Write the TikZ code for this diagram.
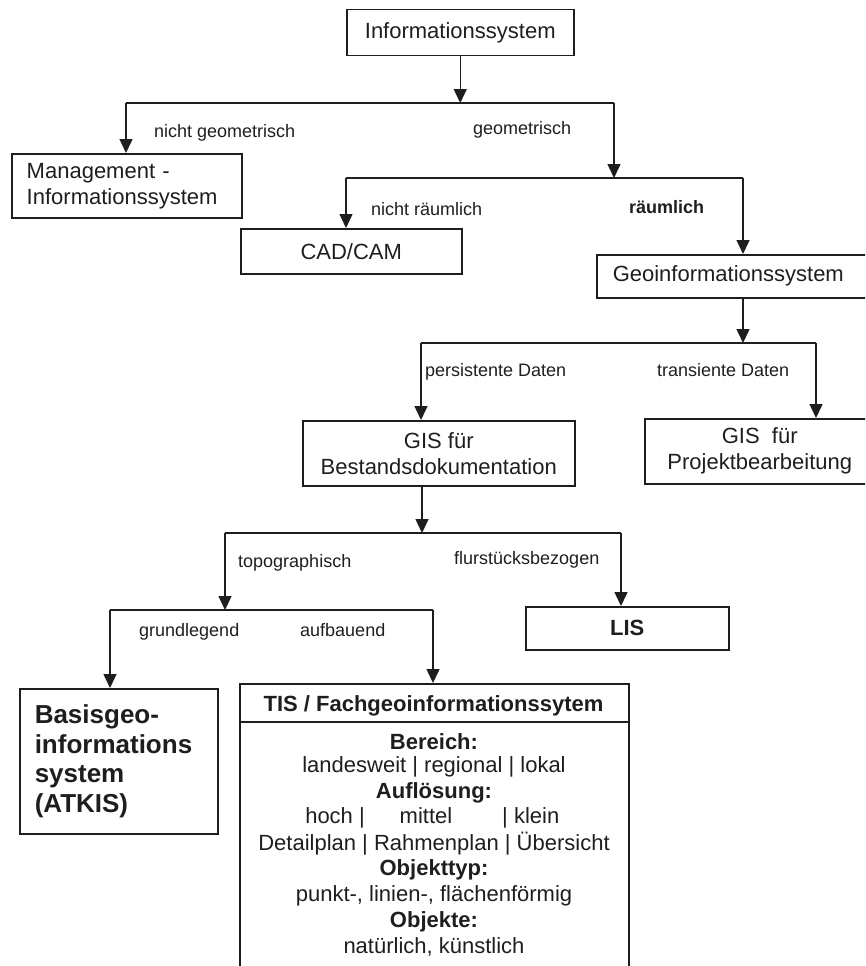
\documentclass[tikz,border=0pt]{standalone}
\usepackage{fontspec}
\setmainfont{Liberation Sans}
\usetikzlibrary{arrows.meta}
\definecolor{ink}{HTML}{1E1E1E}
\begin{document}
\begin{tikzpicture}[x=1pt,y=-1pt,
  every node/.style={text=ink, inner sep=0pt},
  box/.style={draw=ink, line width=1.5pt, anchor=north west},
  boxtext/.style={font=\fontsize{22}{26}\selectfont, align=center},
  lefttext/.style={font=\fontsize{22}{26}\selectfont, align=left},
  lbl/.style={font=\fontsize{18}{21}\selectfont, anchor=west},
  tis/.style={font=\fontsize{22}{26}\selectfont},
  tisbold/.style={font=\fontsize{22}{26}\selectfont\bfseries},
  bus/.style={draw=ink, line width=1.5pt},
  arr/.style={draw=ink, line width=1.5pt, -{Triangle[length=14pt,width=13pt]}}]

\useasboundingbox (0,0) rectangle (865,966);
\clip (0,0) rectangle (865,966);

% boxes
\node[box, boxtext, minimum width=227pt, minimum height=46pt] (info) at (346,9) {Informationssystem};
\node[box, lefttext, minimum width=230pt, minimum height=64pt, text width=200pt] (mgmt) at (11,153)
  {Management -\\Informationssystem};
\node[box, boxtext, minimum width=221pt, minimum height=45pt] (cad) at (240,228) {CAD/CAM};
\node[box, lefttext, minimum width=280pt, minimum height=43pt, text width=248pt] (geo) at (596,254)
  {Geoinformationssystem};
\node[box, boxtext, minimum width=272pt, minimum height=65pt] (bestand) at (302,420)
  {GIS für\\Bestandsdokumentation};
\node[box, boxtext, minimum width=230pt, minimum height=65pt] (projekt) at (644,418)
  {GIS\ \ für\\Projektbearbeitung};
\node[box, boxtext, font=\fontsize{22}{26}\selectfont\bfseries, minimum width=203pt, minimum height=43pt] (lis) at (525,606) {LIS};
\node[box, align=left, font=\fontsize{26}{29.7}\selectfont\bfseries, minimum width=198pt, minimum height=145pt, text width=168pt] (basis) at (19,688)
  {Basisgeo-\\informations\\system\\(ATKIS)};
\node[box, minimum width=389pt, minimum height=320pt] (tisbox) at (239,683) {};
\draw[bus] ([yshift=-39pt]tisbox.north west) -- ([yshift=-39pt]tisbox.north east);

% contents of the TIS box
\node[tisbold] (tishead) at (433.5,706) {TIS / Fachgeoinformationssytem};
\node[tisbold] (t1) at (434,742) {Bereich:};
\node[tis] (t2) at (434,767) {landesweit | regional | lokal};
\node[tisbold] (t3) at (434,793) {Auflösung:};
\node[tis, anchor=base east] (t4a) at (365,823.7) {hoch |};
\node[tis, anchor=base] (t4b) at (426,823.7) {mittel};
\node[tis, anchor=base west] (t4c) at (502,823.7) {| klein};
\node[tis] (t5) at (434,844) {Detailplan | Rahmenplan | Übersicht};
\node[tisbold] (t6) at (434,870) {Objekttyp:};
\node[tis] (t7) at (434,896) {punkt-, linien-, flächenförmig};
\node[tisbold] (t8) at (434,922) {Objekte:};
\node[tis] (t9) at (434,947) {natürlich, künstlich};

% branch lines
\coordinate (b1L) at (126,103);  \coordinate (b1R) at (614,103);
\coordinate (b2L) at (346,178);  \coordinate (b2R) at (743,178);
\coordinate (b3L) at (421,343);  \coordinate (b3R) at (816,343);
\coordinate (b4L) at (225,533);  \coordinate (b4R) at (621,533);
\coordinate (b5L) at (110,610);  \coordinate (b5R) at (433,610);

\draw[arr] (info.south) -- (info.south |- b1L);
\draw[bus] (b1L) -- (b1R);
\draw[arr] (b1L) -- (mgmt.north -| b1L);
\draw[arr] (b1R) -- (b1R |- b2L);

\draw[bus] (b2L) -- (b2R);
\draw[arr] (b2L) -- (cad.north -| b2L);
\draw[arr] (b2R) -- (geo.north -| b2R);

\draw[arr] (geo.south -| b2R) -- (b2R |- b3L);
\draw[bus] (b3L) -- (b3R);
\draw[arr] (b3L) -- (bestand.north -| b3L);
\draw[arr] (b3R) -- (projekt.north -| b3R);

\draw[arr] (bestand.south -| 422,0) -- (422,533);
\draw[bus] (b4L) -- (b4R);
\draw[arr] (b4L) -- (b4L |- b5L);
\draw[arr] (b4R) -- (lis.north -| b4R);

\draw[bus] (b5L) -- (b5R);
\draw[arr] (b5L) -- (basis.north -| b5L);
\draw[arr] (b5R) -- (tisbox.north -| b5R);

% branch labels
\node[lbl] (l1) at (154,133) {nicht geometrisch};
\node[lbl] (l2) at (473,130) {geometrisch};
\node[lbl] (l3) at (371,209) {nicht räumlich};
\node[lbl, font=\fontsize{18}{21}\selectfont\bfseries] (l4) at (629,207) {räumlich};
\node[lbl] (l5) at (425,372) {persistente Daten};
\node[lbl] (l6) at (657,370) {transiente Daten};
\node[lbl] (l7) at (238,563) {topographisch};
\node[lbl] (l8) at (454,560) {flurstücksbezogen};
\node[lbl] (l9) at (139,632) {grundlegend};
\node[lbl] (l10) at (300,630) {aufbauend};
\end{tikzpicture}
\end{document}
